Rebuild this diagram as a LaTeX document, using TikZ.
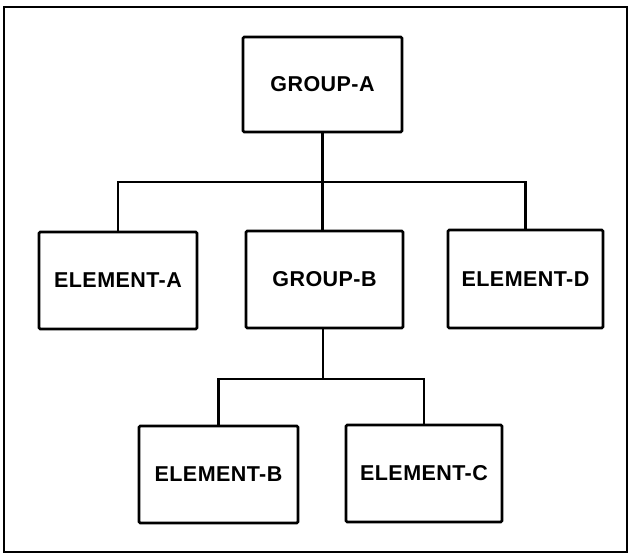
\documentclass[tikz,border=0pt]{standalone}
\usepackage{fontspec}
\setmainfont{Liberation Sans}
\newfontfamily\labelfont[LetterSpace=2.0]{Liberation Sans}
\begin{document}
\begin{tikzpicture}[x=1pt,y=-1pt,
  box/.style={draw, line width=2.7pt, rounded corners=1.2pt, inner sep=0pt,
    minimum width=#1, minimum height=97pt,
    font=\labelfont\fontsize{21.5}{25}\selectfont\bfseries},
  box/.default=158pt,
  link/.style={line width=2.4pt}]
\useasboundingbox (0,0) rectangle (630,556);
% frame
\draw[line width=1.8pt] (4,7) rectangle (627,552);

% top level
\node[box=159pt, minimum height=95pt] (ga) at (322.5,84.5) {GROUP-A};

% second level
\node[box=158pt] (ea) at (118,280.5)   {ELEMENT-A};
\node[box=157pt] (gb) at (324.5,279.5) {GROUP-B};
\node[box=155pt, minimum height=98pt] (ed) at (525.5,279) {ELEMENT-D};

% third level
\node[box=159pt] (eb) at (218.5,474.5) {ELEMENT-B};
\node[box=156pt] (ec) at (424,473.5)   {ELEMENT-C};

% bus junctions
\coordinate (bus1) at (322.5,182);
\coordinate (bus2) at (323,379);

% connectors
\draw[link] (ga.south) -- (ga.south |- gb.north);
\draw[link] (ea.north) |- (bus1) -| (ed.north);
\draw[link] (gb.south -| bus2) -- (bus2);
\draw[link] (eb.north) |- (bus2) -| (ec.north);
\end{tikzpicture}
\end{document}
